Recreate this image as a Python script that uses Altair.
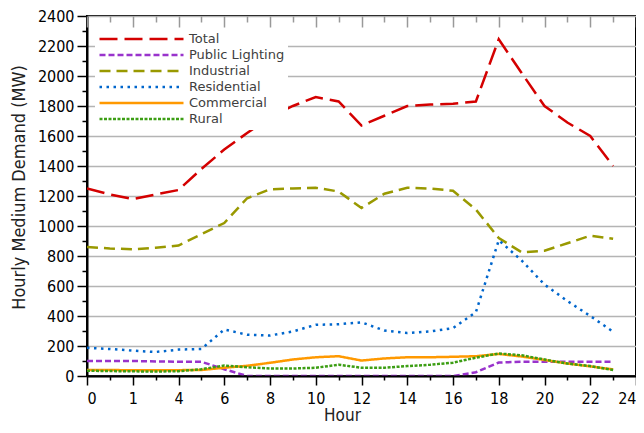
import altair as alt
import pandas as pd

hours = list(range(24))
series_names = ["Total", "Public Lighting", "Industrial", "Residential", "Commercial", "Rural"]

total = [1250, 1210, 1180, 1210, 1240, 1380, 1510, 1620, 1725, 1800, 1860, 1830, 1670, 1735, 1800, 1810, 1815, 1830, 2245, 2020, 1800, 1690, 1600, 1400]
public_lighting = [100, 100, 100, 97, 95, 95, 45, 0, 0, 0, 0, 0, 0, 0, 0, 0, 0, 25, 90, 95, 95, 95, 95, 95]
industrial = [860, 850, 845, 855, 870, 945, 1020, 1185, 1245, 1250, 1255, 1230, 1120, 1215, 1255, 1250, 1235, 1110, 920, 825, 835, 885, 935, 915]
residential = [188, 180, 169, 160, 176, 180, 310, 275, 270, 297, 341, 345, 358, 303, 286, 297, 319, 425, 905, 770, 610, 500, 400, 295]
commercial = [40, 40, 38, 38, 39, 40, 55, 68, 88, 110, 125, 132, 103, 117, 125, 125, 128, 132, 147, 130, 107, 83, 64, 44]
rural = [35, 33, 31, 30, 32, 45, 70, 58, 50, 50, 55, 75, 55, 55, 66, 75, 89, 122, 150, 138, 110, 83, 66, 40]

colors = ["#d40000", "#9933cc", "#999900", "#0066cc", "#ff9900", "#3c9e14"]
dashes = [[18, 7], [6, 3], [11, 6], [2.5, 4.5], [1, 0], [3, 1.5]]

x_tick_values = list(range(0, 25))
x_tick_labels = ["0", "1", "4", "6", "8", "10", "12", "14", "16", "18", "20", "22", "24"]
y_tick_values = list(range(0, 2401, 100))

rows = []
for name, vals in zip(series_names, [total, public_lighting, industrial, residential, commercial, rural]):
    for h, v in zip(hours, vals):
        rows.append({"Hour": h, "Demand": v, "Series": name})
df = pd.DataFrame(rows)

label_array = "[" + ",".join("'" + s + "'" for s in x_tick_labels) + "]"
x_label_expr = "datum.value % 2 == 0 ? " + label_array + "[datum.value / 2] : ''"

FONT = "DejaVu Sans Condensed, DejaVu Sans"
PLOT_H = 360

xscale = alt.Scale(domain=[0, 24], nice=False, zero=False)
yscale = alt.Scale(domain=[0, 2400], nice=False)

even = "datum.value % 2 == 0"

chart = alt.Chart(df).mark_line(strokeWidth=2.5, clip=True).encode(
    x=alt.X(
        "Hour:Q",
        scale=xscale,
        axis=alt.Axis(
            values=x_tick_values,
            labelExpr=x_label_expr,
            title="Hour",
            zindex=1,
            tickSize={"condition": {"test": even, "value": 9}, "value": 4},
            labelPadding=5,
            titleX=255,
            titleY=44,
            titleFontSize=17,
            titleAlign="center",
            titleBaseline="alphabetic",
            grid=True,
            gridColor="#999999",
            gridWidth=1.5,
            gridDash={"condition": {"test": even, "value": [11, PLOT_H - 11]}, "value": [6, PLOT_H - 6]},
            gridDashOffset=0,
        ),
    ),
    y=alt.Y(
        "Demand:Q",
        scale=yscale,
        axis=alt.Axis(
            values=y_tick_values,
            format="d",
            labelExpr="datum.value % 200 == 0 ? datum.label : ''",
            title="Hourly Medium Demand (MW)",
            grid=True,
            gridOpacity={"condition": {"test": "datum.value % 200 == 0", "value": 1}, "value": 0},
            tickSize={"condition": {"test": "datum.value % 200 == 0", "value": 10}, "value": 5},
            labelPadding=3,
            titleX=-63,
            titleY=171,
            titleAngle=270,
            titleAlign="center",
            titleBaseline="alphabetic",
        ),
    ),
    color=alt.Color(
        "Series:N",
        scale=alt.Scale(domain=series_names, range=colors),
        legend=alt.Legend(
            orient="none",
            legendX=8,
            legendY=12,
            title=None,
            symbolType="stroke",
            symbolSize=7056,
            symbolStrokeWidth=2.5,
            labelFontSize=13,
            labelFont="DejaVu Sans",
            labelColor="#404040",
            fillColor="white",
            padding=3,
            rowPadding=0,
            clipHeight=16,
            labelOffset=4,
        ),
    ),
    strokeDash=alt.StrokeDash("Series:N", scale=alt.Scale(domain=series_names, range=dashes)),
).properties(
    width=549,
    height=PLOT_H,
    padding={"left": 79, "top": 8, "right": 0, "bottom": 47},
    autosize="none",
).configure_view(
    stroke="black", strokeWidth=2
).configure_axis(
    labelFont=FONT,
    labelFontSize=16,
    labelColor="black",
    titleFont=FONT,
    titleFontSize=18,
    titleFontWeight="normal",
    titleColor="#222222",
    domainColor="black",
    domainWidth=2,
    tickColor="black",
    tickWidth=1.5,
    gridColor="#b4b4b4",
    gridWidth=1.5,
)

chart.save("out.html", embed_options={"renderer": "svg", "actions": False})
